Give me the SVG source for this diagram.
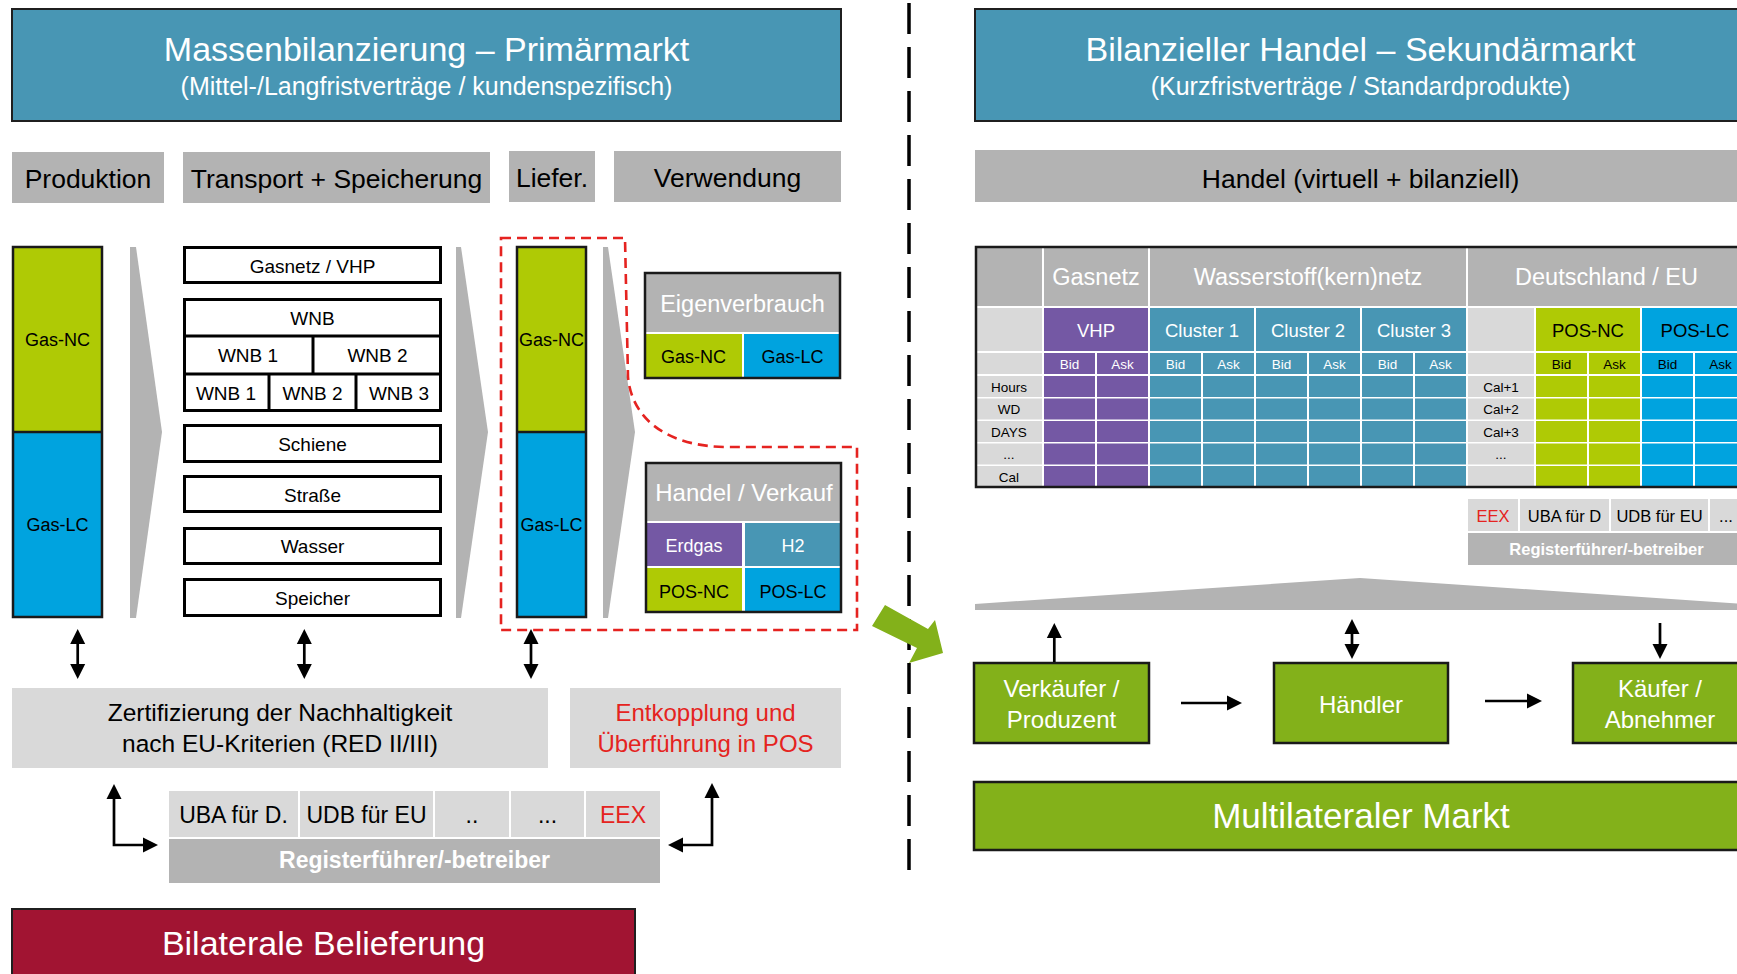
<svg xmlns="http://www.w3.org/2000/svg" width="1737" height="974" viewBox="0 0 1737 974">
<defs>
<style>
text{font-family:'Liberation Sans',Arial,sans-serif;text-anchor:middle;fill:#000}
text.w{fill:#fff}
text.r{fill:#E52320}
.hdr{fill:#4896B4;stroke:#1f1f1f;stroke-width:2}
.g1{fill:#B3B3B3}
.g2{fill:#D9D9D9}
.nc{fill:#AFCA05}
.lc{fill:#00A3DF}
.pu{fill:#7458A4}
.te{fill:#4896B4}
.gr{fill:#83B11A}
.box{fill:#fff;stroke:#000;stroke-width:3}
.bd{fill:none;stroke:#1a1a1a;stroke-width:2.5}
.ar{fill:none;stroke:#000;stroke-width:2.7}
.chev{fill:#B3B3B3}
.dash{fill:none;stroke:#E52320;stroke-width:2.6;stroke-dasharray:10 6}
</style>
<marker id="ah" markerUnits="userSpaceOnUse" markerWidth="16" markerHeight="16" viewBox="0 0 16 16" refX="9" refY="8" orient="auto-start-reverse">
<path d="M0,0.5 L15,8 L0,15.5 Z" fill="#000"/>
</marker>
<g id="cellrow">
<rect class="g2" x="976" y="0" width="66" height="21"/>
<rect class="pu" x="1044" y="0" width="51" height="21"/>
<rect class="pu" x="1097" y="0" width="51" height="21"/>
<rect class="te" x="1150" y="0" width="51" height="21"/>
<rect class="te" x="1203" y="0" width="51" height="21"/>
<rect class="te" x="1256" y="0" width="51" height="21"/>
<rect class="te" x="1309" y="0" width="51" height="21"/>
<rect class="te" x="1362" y="0" width="51" height="21"/>
<rect class="te" x="1415" y="0" width="51" height="21"/>
<rect class="g2" x="1468" y="0" width="66" height="21"/>
<rect class="nc" x="1536" y="0" width="51" height="21"/>
<rect class="nc" x="1589" y="0" width="51" height="21"/>
<rect class="lc" x="1642" y="0" width="51" height="21"/>
<rect class="lc" x="1695" y="0" width="60" height="21"/>
</g>
</defs>

<!-- Headers -->
<g id="hdr-left">
<rect class="hdr" x="12" y="9" width="829" height="112"/>
<text class="w" x="426.5" y="61" font-size="34">Massenbilanzierung – Primärmarkt</text>
<text class="w" x="426.5" y="95" font-size="25">(Mittel-/Langfristverträge / kundenspezifisch)</text>
</g>
<g id="hdr-right">
<rect class="hdr" x="975" y="9" width="790" height="112"/>
<text class="w" x="1360.5" y="61" font-size="34">Bilanzieller Handel – Sekundärmarkt</text>
<text class="w" x="1360.5" y="95" font-size="25">(Kurzfristverträge / Standardprodukte)</text>
</g>

<!-- Column headers -->
<g id="col-produktion"><rect class="g1" x="12" y="152" width="152" height="51"/><text x="88" y="188" font-size="26.5">Produktion</text></g>
<g id="col-transport"><rect class="g1" x="183" y="152" width="307" height="51"/><text x="336.5" y="188" font-size="26.5">Transport + Speicherung</text></g>
<g id="col-liefer"><rect class="g1" x="509" y="151" width="86" height="51"/><text x="552" y="187" font-size="26.5">Liefer.</text></g>
<g id="col-verwendung"><rect class="g1" x="614" y="151" width="227" height="51"/><text x="727.5" y="187" font-size="26.5">Verwendung</text></g>
<g id="col-handel"><rect class="g1" x="975" y="150" width="790" height="52"/><text x="1360.5" y="188" font-size="26.5">Handel (virtuell + bilanziell)</text></g>

<!-- Produktion gas column -->
<g id="prod-gas">
<rect class="nc" x="12" y="246" width="91" height="186"/>
<rect class="lc" x="12" y="432" width="91" height="186"/>
<rect class="bd" x="13" y="247" width="89" height="370"/>
<line x1="13" y1="432" x2="102" y2="432" stroke="#1a1a1a" stroke-width="2.5"/>
<text x="57.5" y="346" font-size="18">Gas-NC</text>
<text x="57.5" y="531" font-size="18">Gas-LC</text>
</g>

<!-- Chevrons -->
<g id="chevrons">
<polygon class="chev" points="130,247 136,247 162,432 136,618 130,618"/>
<polygon class="chev" points="456,247 461,247 488,432 461,618 456,618"/>
<polygon class="chev" points="603,247 608,247 635,432 608,618 603,618"/>
</g>

<!-- Transport + Speicherung -->
<g id="transport">
<rect class="box" x="184.5" y="247.5" width="256" height="35"/>
<text x="312.5" y="273" font-size="19">Gasnetz / VHP</text>
<rect class="box" x="184.5" y="299.5" width="256" height="111"/>
<line x1="184.5" y1="336" x2="440.5" y2="336" stroke="#000" stroke-width="3"/>
<line x1="184.5" y1="374" x2="440.5" y2="374" stroke="#000" stroke-width="3"/>
<line x1="313" y1="336" x2="313" y2="374" stroke="#000" stroke-width="3"/>
<line x1="269" y1="374" x2="269" y2="410.5" stroke="#000" stroke-width="3"/>
<line x1="356" y1="374" x2="356" y2="410.5" stroke="#000" stroke-width="3"/>
<text x="312.5" y="325" font-size="19">WNB</text>
<text x="248" y="362" font-size="19">WNB 1</text>
<text x="377.5" y="362" font-size="19">WNB 2</text>
<text x="226" y="400" font-size="19">WNB 1</text>
<text x="312.5" y="400" font-size="19">WNB 2</text>
<text x="399" y="400" font-size="19">WNB 3</text>
<rect class="box" x="184.5" y="425.5" width="256" height="36"/>
<text x="312.5" y="451" font-size="19">Schiene</text>
<rect class="box" x="184.5" y="476.5" width="256" height="35"/>
<text x="312.5" y="502" font-size="19">Straße</text>
<rect class="box" x="184.5" y="528.5" width="256" height="35"/>
<text x="312.5" y="553" font-size="19">Wasser</text>
<rect class="box" x="184.5" y="579.5" width="256" height="36"/>
<text x="312.5" y="605" font-size="19">Speicher</text>
</g>

<!-- Liefer gas column -->
<g id="liefer-gas">
<rect class="nc" x="516" y="246" width="71" height="186"/>
<rect class="lc" x="516" y="432" width="71" height="186"/>
<rect class="bd" x="517" y="247" width="69" height="370"/>
<line x1="517" y1="432" x2="586" y2="432" stroke="#1a1a1a" stroke-width="2.5"/>
<text x="551.5" y="346" font-size="18">Gas-NC</text>
<text x="551.5" y="531" font-size="18">Gas-LC</text>
</g>

<!-- Eigenverbrauch -->
<g id="eigenverbrauch">
<rect x="644" y="272" width="197" height="107" fill="#fff"/>
<rect class="g1" x="644" y="272" width="197" height="60"/>
<rect class="nc" x="644" y="334" width="98" height="45"/>
<rect class="lc" x="744" y="334" width="97" height="45"/>
<rect class="bd" x="645" y="273" width="195" height="105"/>
<text class="w" x="742.5" y="312" font-size="23.5">Eigenverbrauch</text>
<text x="693.5" y="363" font-size="18">Gas-NC</text>
<text x="792.5" y="363" font-size="18">Gas-LC</text>
</g>

<!-- Handel / Verkauf -->
<g id="handel-verkauf">
<rect x="645" y="462" width="197" height="151" fill="#fff"/>
<rect class="g1" x="645" y="462" width="197" height="59"/>
<rect class="pu" x="645" y="523" width="97" height="43"/>
<rect class="te" x="745" y="523" width="97" height="43"/>
<rect class="nc" x="645" y="568" width="97" height="45"/>
<rect class="lc" x="745" y="568" width="97" height="45"/>
<rect class="bd" x="646" y="463" width="195" height="149"/>
<text class="w" x="744" y="501" font-size="24">Handel / Verkauf</text>
<text class="w" x="694" y="552" font-size="18">Erdgas</text>
<text class="w" x="793" y="552" font-size="18">H2</text>
<text x="694" y="598" font-size="18">POS-NC</text>
<text x="793" y="598" font-size="18">POS-LC</text>
</g>

<!-- Red dashed outline -->
<g id="pos-outline">
<path class="dash" d="M 501 238 H 625 L 628 377 C 632 420, 668 446, 725 447 H 857 V 630 H 501 Z"/>
</g>

<!-- Certification and registry (left) -->
<g id="zertifizierung">
<rect class="g2" x="12" y="688" width="536" height="80"/>
<text x="280" y="721" font-size="24.5">Zertifizierung der Nachhaltigkeit</text>
<text x="280" y="752" font-size="24.5">nach EU-Kriterien (RED II/III)</text>
</g>
<g id="entkopplung">
<rect class="g2" x="570" y="688" width="271" height="80"/>
<text class="r" x="705.5" y="721" font-size="24">Entkopplung und</text>
<text class="r" x="705.5" y="752" font-size="24">Überführung in POS</text>
</g>
<g id="registry-left">
<rect class="g2" x="169" y="791" width="129" height="46"/>
<rect class="g2" x="300" y="791" width="133" height="46"/>
<rect class="g2" x="435" y="791" width="74" height="46"/>
<rect class="g2" x="511" y="791" width="73" height="46"/>
<rect class="g2" x="586" y="791" width="74" height="46"/>
<rect class="g1" x="169" y="839" width="491" height="44"/>
<text x="233.5" y="823" font-size="23">UBA für D.</text>
<text x="366.5" y="823" font-size="23">UDB für EU</text>
<text x="472" y="823" font-size="23">..</text>
<text x="547.5" y="823" font-size="23">...</text>
<text class="r" x="623" y="823" font-size="23">EEX</text>
<text class="w" x="414.5" y="868" font-size="23" font-weight="bold">Registerführer/-betreiber</text>
</g>
<g id="bilateral">
<rect x="12" y="909" width="623" height="80" fill="#A11432" stroke="#1f1f1f" stroke-width="2"/>
<text class="w" x="323.5" y="955" font-size="34">Bilaterale Belieferung</text>
</g>

<!-- Divider -->
<g id="divider">
<line x1="909" y1="3" x2="909" y2="871" stroke="#000" stroke-width="3.5" stroke-dasharray="31 13"/>
</g>

<!-- Table -->
<g id="trading-table">
<rect x="975" y="246" width="790" height="242" fill="#fff"/>
<rect class="g1" x="976" y="247" width="66" height="59"/>
<rect class="g1" x="1044" y="247" width="104" height="59"/>
<rect class="g1" x="1150" y="247" width="316" height="59"/>
<rect class="g1" x="1468" y="247" width="290" height="59"/>
<text class="w" x="1096" y="285" font-size="23.5">Gasnetz</text>
<text class="w" x="1308" y="285" font-size="23.5">Wasserstoff(kern)netz</text>
<text class="w" x="1606.5" y="285" font-size="23.5">Deutschland / EU</text>
<rect class="g2" x="976" y="308" width="66" height="43"/>
<rect class="pu" x="1044" y="308" width="104" height="43"/>
<rect class="te" x="1150" y="308" width="104" height="43"/>
<rect class="te" x="1256" y="308" width="104" height="43"/>
<rect class="te" x="1362" y="308" width="104" height="43"/>
<rect class="g2" x="1468" y="308" width="66" height="43"/>
<rect class="nc" x="1536" y="308" width="104" height="43"/>
<rect class="lc" x="1642" y="308" width="113" height="43"/>
<text class="w" x="1096" y="337" font-size="18.5">VHP</text>
<text class="w" x="1202" y="337" font-size="18.5">Cluster 1</text>
<text class="w" x="1308" y="337" font-size="18.5">Cluster 2</text>
<text class="w" x="1414" y="337" font-size="18.5">Cluster 3</text>
<text x="1588" y="337" font-size="18.5">POS-NC</text>
<text x="1695" y="337" font-size="18.5">POS-LC</text>
<use href="#cellrow" y="353"/>
<use href="#cellrow" y="376"/>
<use href="#cellrow" y="398.5"/>
<use href="#cellrow" y="421"/>
<use href="#cellrow" y="443.5"/>
<use href="#cellrow" y="466"/>
<g font-size="13.5">
<text class="w" x="1069.5" y="369">Bid</text>
<text class="w" x="1122.5" y="369">Ask</text>
<text class="w" x="1175.5" y="369">Bid</text>
<text class="w" x="1228.5" y="369">Ask</text>
<text class="w" x="1281.5" y="369">Bid</text>
<text class="w" x="1334.5" y="369">Ask</text>
<text class="w" x="1387.5" y="369">Bid</text>
<text class="w" x="1440.5" y="369">Ask</text>
<text x="1561.5" y="369">Bid</text>
<text x="1614.5" y="369">Ask</text>
<text x="1667.5" y="369">Bid</text>
<text x="1720.5" y="369">Ask</text>
<text x="1009" y="391.5">Hours</text>
<text x="1009" y="414">WD</text>
<text x="1009" y="436.5">DAYS</text>
<text x="1009" y="459">...</text>
<text x="1009" y="481.5">Cal</text>
<text x="1501" y="391.5">Cal+1</text>
<text x="1501" y="414">Cal+2</text>
<text x="1501" y="436.5">Cal+3</text>
<text x="1501" y="459">...</text>
</g>
<rect class="bd" x="976" y="247" width="790" height="240"/>
</g>

<!-- Registry (right) -->
<g id="registry-right">
<rect class="g2" x="1468" y="499" width="50" height="32"/>
<rect class="g2" x="1520" y="499" width="89" height="32"/>
<rect class="g2" x="1611" y="499" width="97" height="32"/>
<rect class="g2" x="1710" y="499" width="45" height="32"/>
<rect class="g1" x="1468" y="533" width="287" height="32"/>
<text class="r" x="1493" y="522" font-size="16.5">EEX</text>
<text x="1564.5" y="522" font-size="16.5">UBA für D</text>
<text x="1659.5" y="522" font-size="16.5">UDB für EU</text>
<text x="1726" y="522" font-size="16.5">...</text>
<text class="w" x="1606.5" y="555" font-size="16.5" font-weight="bold">Registerführer/-betreiber</text>
</g>

<!-- Roof -->
<g id="roof">
<polygon class="chev" points="975,604 1360,578 1760,605 1760,610 975,610"/>
</g>

<!-- Market participants -->
<g id="verkaeufer">
<rect class="gr" x="974" y="663" width="175" height="80" stroke="#1a1a1a" stroke-width="2.5"/>
<text class="w" x="1061.5" y="697" font-size="24">Verkäufer /</text>
<text class="w" x="1061.5" y="728" font-size="24">Produzent</text>
</g>
<g id="haendler">
<rect class="gr" x="1274" y="663" width="174" height="80" stroke="#1a1a1a" stroke-width="2.5"/>
<text class="w" x="1361" y="713" font-size="24">Händler</text>
</g>
<g id="kaeufer">
<rect class="gr" x="1573" y="663" width="180" height="80" stroke="#1a1a1a" stroke-width="2.5"/>
<text class="w" x="1660" y="697" font-size="24">Käufer /</text>
<text class="w" x="1660" y="728" font-size="24">Abnehmer</text>
</g>
<g id="multilateral">
<rect class="gr" x="974" y="782" width="790" height="68" stroke="#1a1a1a" stroke-width="2.5"/>
<text class="w" x="1361" y="828" font-size="35">Multilateraler Markt</text>
</g>

<!-- Connectors -->
<g id="connectors">
<line class="ar" x1="77.7" y1="635" x2="77.7" y2="673" marker-start="url(#ah)" marker-end="url(#ah)"/>
<line class="ar" x1="304.3" y1="635" x2="304.3" y2="673" marker-start="url(#ah)" marker-end="url(#ah)"/>
<line class="ar" x1="531" y1="635" x2="531" y2="673" marker-start="url(#ah)" marker-end="url(#ah)"/>
<path class="ar" d="M 114 790 V 845 H 152" marker-start="url(#ah)" marker-end="url(#ah)"/>
<path class="ar" d="M 712 789 V 845 H 674" marker-start="url(#ah)" marker-end="url(#ah)"/>
<line class="ar" x1="1054.3" y1="662" x2="1054.3" y2="629" marker-end="url(#ah)"/>
<line class="ar" x1="1352" y1="625" x2="1352" y2="653" marker-start="url(#ah)" marker-end="url(#ah)"/>
<line class="ar" x1="1660" y1="623" x2="1660" y2="653" marker-end="url(#ah)"/>
<line class="ar" x1="1181" y1="703" x2="1236" y2="703" marker-end="url(#ah)"/>
<line class="ar" x1="1485" y1="701" x2="1536" y2="701" marker-end="url(#ah)"/>
<polygon points="885,605 928,629 935,620 943,653 909,663 917,648 872,626" fill="#83B11A"/>
</g>
</svg>
